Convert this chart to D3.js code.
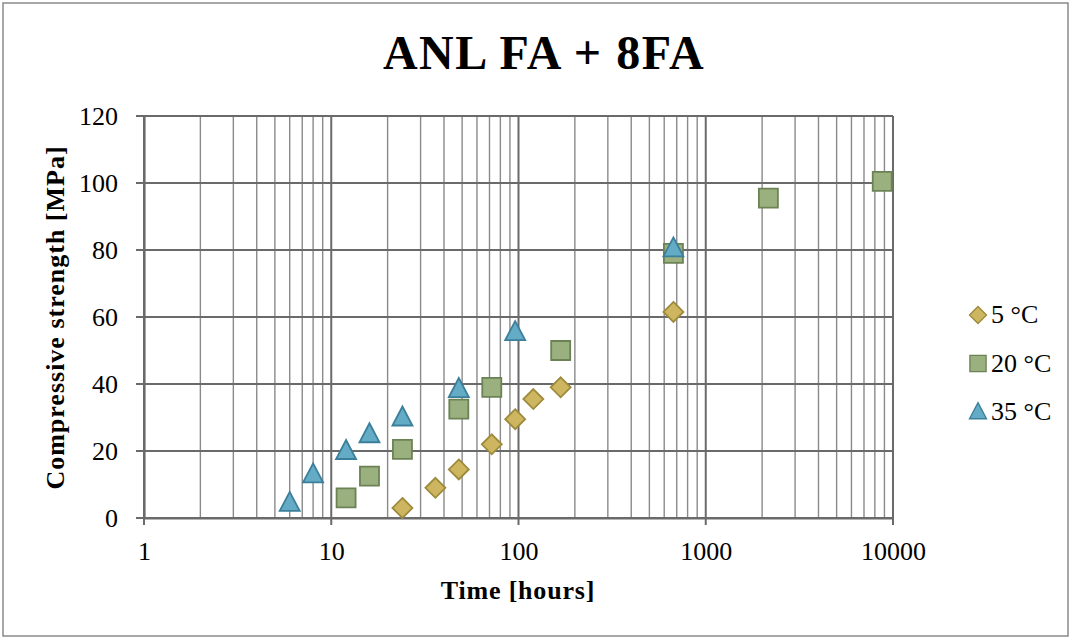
<!DOCTYPE html>
<html>
<head>
<meta charset="utf-8">
<script src="https://cdn.jsdelivr.net/npm/d3@7"></script>
<style>
  body { margin: 0; background: #fff; }
  svg { display: block; font-family: "Liberation Serif", "DejaVu Serif", serif; }
  svg text { font-family: "Liberation Serif", "DejaVu Serif", serif; }
</style>
</head>
<body>
<div id="chart"></div>
<script>
'use strict';

// Data (time in hours, strength in MPa)
const series = ['5 °C', '20 °C', '35 °C'];
const time5 = [24, 36, 48, 72, 96, 120, 168, 672];
const str5 = [3, 9, 14.5, 22, 29.5, 35.5, 39, 61.5];
const time20 = [12, 16, 24, 48, 72, 168, 672, 2160, 8760];
const str20 = [6, 12.5, 20.5, 32.5, 39, 50, 79, 95.5, 100.5];
const time35 = [6, 8, 12, 16, 24, 48, 96, 672];
const str35 = [4.5, 13, 20, 25, 30, 38.5, 55.5, 80.5];
const xTicks = [1, 10, 100, 1000, 10000];
const yTicks = [0, 20, 40, 60, 80, 100, 120];

const W = 1071, H = 639;
const margin = {top: 116, right: 178, bottom: 121, left: 144};
const gW = W - margin.left - margin.right;
const gH = H - margin.top - margin.bottom;

const svg = d3.select('#chart').append('svg')
    .attr('width', W)
    .attr('height', H);

// Outer frame
svg.append('rect')
    .attr('x', 3).attr('y', 3)
    .attr('width', W - 6).attr('height', H - 6)
    .attr('fill', '#fff')
    .attr('stroke', '#8a8a8a')
    .attr('stroke-width', 1.5);

const g = svg.append('g')
    .attr('transform', `translate(${margin.left},${margin.top})`);

// Scales
const x = d3.scaleLog().domain([1, 10000]).range([0, gW]);
const y = d3.scaleLinear().domain([0, 120]).range([gH, 0]);

// Minor vertical gridlines
const minor = [];
for (let p = 1; p < 10000; p *= 10) {
    for (let k = 2; k <= 9; k++) minor.push(p * k);
}
g.append('g').selectAll('line')
    .data(minor)
    .join('line')
    .attr('x1', d => x(d)).attr('x2', d => x(d))
    .attr('y1', 0).attr('y2', gH)
    .attr('stroke', '#8a8a8a')
    .attr('stroke-width', 1.4);

// Major vertical gridlines (with tick below axis)
g.append('g').selectAll('line')
    .data(xTicks)
    .join('line')
    .attr('x1', d => x(d)).attr('x2', d => x(d))
    .attr('y1', 0).attr('y2', gH + 7)
    .attr('stroke', '#6a6a6a')
    .attr('stroke-width', 2);

// Horizontal gridlines (with tick left of axis)
g.append('g').selectAll('line')
    .data(yTicks)
    .join('line')
    .attr('x1', -8).attr('x2', gW)
    .attr('y1', d => y(d)).attr('y2', d => y(d))
    .attr('stroke', '#6a6a6a')
    .attr('stroke-width', 2);

// Axes
const xAxis = g.append('g')
    .attr('transform', `translate(0,${gH})`)
    .call(d3.axisBottom(x).tickValues(xTicks).tickFormat(d3.format('d')).tickSize(0).tickPadding(23.5));
xAxis.attr('font-family', null).attr('font-size', null);
xAxis.select('.domain').attr('stroke', '#6a6a6a').attr('stroke-width', 2.2);
xAxis.selectAll('text').attr('font-size', 26).attr('fill', '#000');

const yAxis = g.append('g')
    .call(d3.axisLeft(y).tickValues(yTicks).tickSize(0).tickPadding(26));
yAxis.attr('font-family', null).attr('font-size', null);
yAxis.select('.domain').attr('stroke', '#6a6a6a').attr('stroke-width', 2.2);
yAxis.selectAll('text').attr('font-size', 26).attr('fill', '#000');

// Title
svg.append('text')
    .attr('x', 544).attr('y', 69)
    .attr('text-anchor', 'middle')
    .attr('font-size', 48)
    .attr('font-weight', 'bold')
    .attr('letter-spacing', 1.5)
    .text('ANL FA + 8FA');

// Axis titles
svg.append('text')
    .attr('x', 518).attr('y', 599)
    .attr('text-anchor', 'middle')
    .attr('font-size', 26)
    .attr('font-weight', 'bold')
    .attr('letter-spacing', 0.8)
    .text('Time [hours]');

svg.append('text')
    .attr('transform', `translate(64,${(147 + 488) / 2}) rotate(-90)`)
    .attr('text-anchor', 'middle')
    .attr('font-size', 26)
    .attr('font-weight', 'bold')
    .attr('letter-spacing', 1)
    .text('Compressive strength [MPa]');

// Markers
const styles = [
    {fill: '#cdb65f', stroke: '#9d8a3c', shape: 'diamond'},
    {fill: '#9bb07f', stroke: '#6b8254', shape: 'square'},
    {fill: '#64abc6', stroke: '#3b7f9b', shape: 'triangle'}
];

function shapePath(shape) {
    if (shape === 'diamond') return 'M0,-10L10,0L0,10L-10,0Z';
    if (shape === 'square') return 'M-9.5,-9.5H9.5V9.5H-9.5Z';
    return 'M0,-11L10,8L-10,8Z';
}

const data = [
    d3.zip(time5, str5),
    d3.zip(time20, str20),
    d3.zip(time35, str35)
];

data.forEach((pts, i) => {
    g.append('g').selectAll('path')
        .data(pts)
        .join('path')
        .attr('transform', d => `translate(${x(d[0])},${y(d[1])})`)
        .attr('d', shapePath(styles[i].shape))
        .attr('fill', styles[i].fill)
        .attr('stroke', styles[i].stroke)
        .attr('stroke-width', 1.8);
});

// Legend
const legend = svg.append('g')
    .attr('transform', 'translate(978,315)');
series.forEach((s, i) => {
    const item = legend.append('g')
        .attr('transform', `translate(0,${i * 48.5})`);
    item.append('path')
        .attr('d', shapePath(styles[i].shape))
        .attr('transform', 'scale(0.85)')
        .attr('fill', styles[i].fill)
        .attr('stroke', styles[i].stroke)
        .attr('stroke-width', 1.6);
    item.append('text')
        .attr('x', 13).attr('y', 8)
        .attr('font-size', 26)
        .text(s);
});
</script>
</body>
</html>
